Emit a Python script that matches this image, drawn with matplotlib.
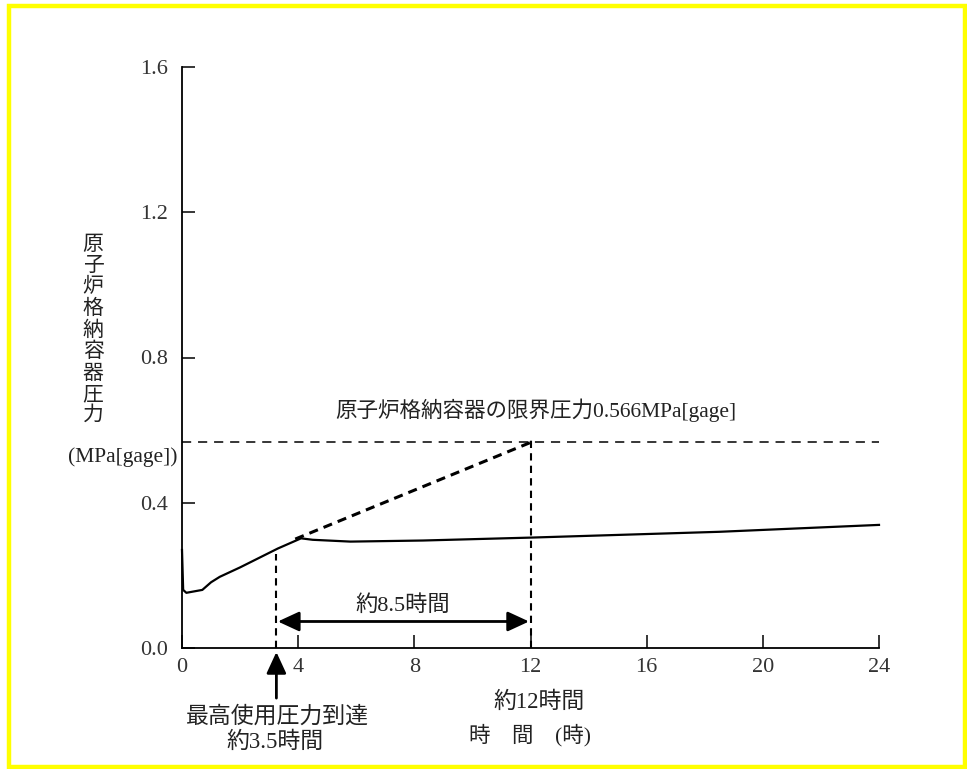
import matplotlib
matplotlib.use("Agg")
import matplotlib.pyplot as plt
from matplotlib.patches import Rectangle

plt.rcParams['font.family'] = ['Liberation Serif', 'Noto Sans CJK JP', 'DejaVu Sans']

# ---- data ----
time_h = [0, 0.04, 0.15, 0.7, 1.0, 1.3, 2.0, 2.5, 3.3, 4.1, 4.5, 5.8, 8.3, 12.0, 18.5, 24]
pressure = [0.27, 0.16, 0.152, 0.16, 0.181, 0.196, 0.222, 0.242, 0.274, 0.302, 0.298,
            0.293, 0.296, 0.304, 0.320, 0.339]

limit_pressure = 0.566
extrap_time = [3.9, 12.0]
extrap_pressure = [0.300, 0.566]
t_max_use = 3.25      # 最高使用圧力到達
p_max_use = 0.26
t_limit = 12.0        # 限界圧力到達
p_limit_top = 0.58
arrow_level = 0.073

x_ticks = [0, 4, 8, 12, 16, 20, 24]
y_ticks = [0.0, 0.4, 0.8, 1.2, 1.6]

W, H = 967, 769
fig = plt.figure(figsize=(W / 100, H / 100), dpi=100)
ax = fig.add_axes([182 / W, 1 - 648 / H, (879 - 182) / W, (648 - 67) / H])

ax.set_xlim(0, 24)
ax.set_ylim(0, 1.6)
for s in ['top', 'right']:
    ax.spines[s].set_visible(False)
for s in ['left', 'bottom']:
    ax.spines[s].set_linewidth(1.3)
ax.set_xticks(x_ticks)
ax.set_xticklabels([str(v) for v in x_ticks])
ax.set_yticks(y_ticks)
ax.set_yticklabels([f"{v:.1f}" for v in y_ticks])
ax.tick_params(axis='both', direction='in', length=9.5, width=1.1,
               labelsize=16, labelcolor='#333333')
ax.tick_params(axis='x', pad=7)
ax.tick_params(axis='y', pad=10)

# main curve
ax.plot(time_h, pressure, color='black', lw=1.6, clip_on=False)
# limit pressure line
ax.plot([0, 24], [limit_pressure, limit_pressure], color='black', lw=1.1,
        linestyle=(0, (6, 4.5)))
# extrapolation
ax.plot(extrap_time, extrap_pressure, color='black', lw=2.2, linestyle=(0, (3, 2)))
# vertical markers
ax.plot([t_max_use, t_max_use], [0, p_max_use], color='black', lw=1.5,
        linestyle=(0, (3.5, 2.5)))
ax.plot([t_limit, t_limit], [0, p_limit_top], color='black', lw=1.5,
        linestyle=(0, (3.5, 2.5)))

# double arrow
ax.annotate('', xy=(t_limit - 0.05, arrow_level), xytext=(t_max_use + 0.05, arrow_level),
            arrowprops=dict(arrowstyle='<|-|>,head_length=0.65,head_width=0.3',
                            mutation_scale=20, lw=2, color='black',
                            shrinkA=0, shrinkB=0))
ax.text(7.6, 0.118, '約8.5時間', ha='center', va='center', fontsize=16, color='#222222')

# upward arrow below axis
ax.annotate('', xy=(t_max_use, -0.011), xytext=(t_max_use, -0.138),
            arrowprops=dict(arrowstyle='-|>,head_length=0.65,head_width=0.3',
                            mutation_scale=20, lw=2, color='black',
                            shrinkA=0, shrinkB=0),
            annotation_clip=False)
ax.text(3.27, -0.19, '最高使用圧力到達', ha='center', va='center', fontsize=16.5,
        color='#222222', clip_on=False)
ax.text(3.2, -0.259, '約3.5時間', ha='center', va='center', fontsize=16.5,
        color='#222222', clip_on=False)
ax.text(12.3, -0.149, '約12時間', ha='center', va='center', fontsize=16.5,
        color='#222222', clip_on=False)
ax.text(11.98, -0.24, '時　間　(時)', ha='center', va='center', fontsize=15.5,
        color='#222222', clip_on=False)

ax.text(12.2, 0.655, '原子炉格納容器の限界圧力0.566MPa[gage]', ha='center', va='center',
        fontsize=15.5, color='#222222')

# y label
fig.text(93 / W, 1 - 331 / H, '\n'.join('原子炉格納容器圧力'), ha='center', va='center',
         fontsize=15, linespacing=1.16, color='#222222')
fig.text(123 / W, 1 - 457 / H, '(MPa[gage])', ha='center', va='center',
         fontsize=15.5, color='#222222')

# yellow frame
fig.patches.append(Rectangle((8.5 / W, 2 / H), (964.5 - 8.5) / W, (763.5 - 2) / H,
                             transform=fig.transFigure, fill=False,
                             edgecolor='#ffff00', lw=3.2))

fig.savefig('out.png', dpi=100)
